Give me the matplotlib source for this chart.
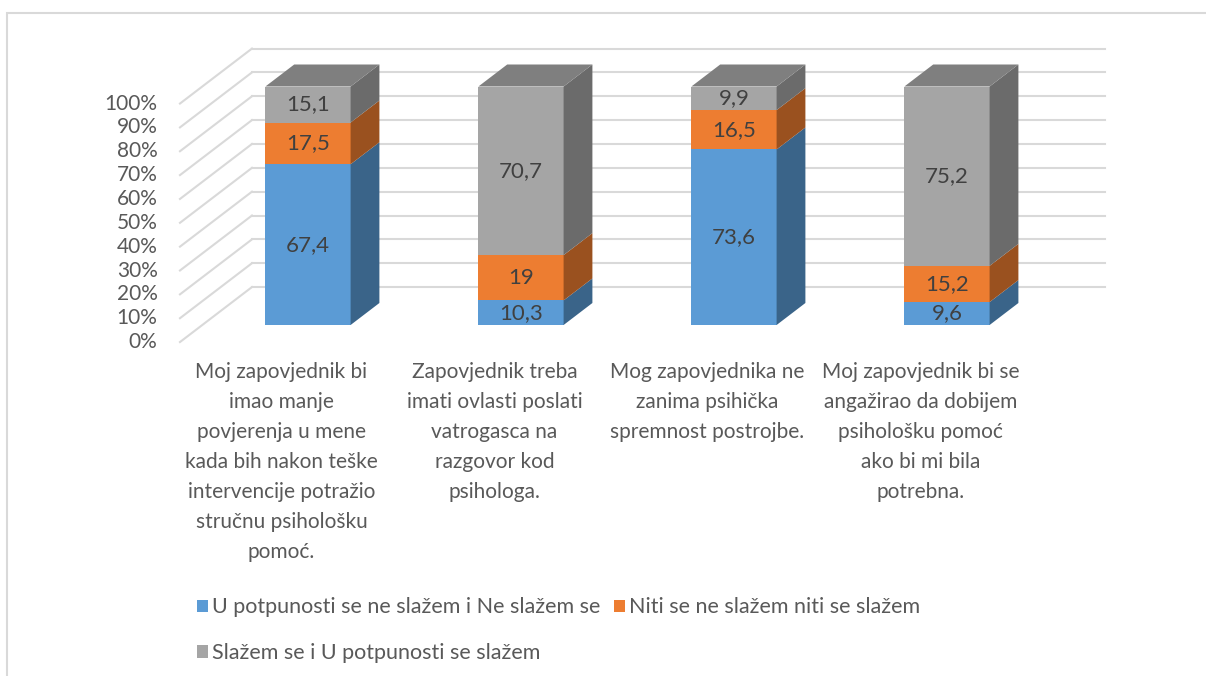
import matplotlib.pyplot as plt
from matplotlib.patches import Polygon, Rectangle
import numpy as np

plt.rcParams['font.family'] = ['Lato', 'DejaVu Sans']

categories = [
    "Moj zapovjednik bi\nimao manje\npovjerenja u mene\nkada bih nakon teške\nintervencije potražio\nstručnu psihološku\npomoć.",
    "Zapovjednik treba\nimati ovlasti poslati\nvatrogasca na\nrazgovor kod\npsihologa.",
    "Mog zapovjednika ne\nzanima psihička\nspremnost postrojbe.",
    "Moj zapovjednik bi se\nangažirao da dobijem\npsihološku pomoć\nako bi mi bila\npotrebna.",
]
series_names = [
    "U potpunosti se ne slažem i Ne slažem se",
    "Niti se ne slažem niti se slažem",
    "Slažem se i U potpunosti se slažem",
]
disagree = [67.4, 10.3, 73.6, 9.6]
neutral = [17.5, 19, 16.5, 15.2]
agree = [15.1, 70.7, 9.9, 75.2]
yticks = [0, 10, 20, 30, 40, 50, 60, 70, 80, 90, 100]

front_colors = ['#5B9BD5', '#ED7D31', '#A5A5A5']
side_colors = ['#3A6489', '#9A511F', '#6B6B6B']
top_color = '#7F7F7F'
grid_color = '#D9D9D9'
text_color = '#595959'
label_color = '#404040'

W, H = 1206, 676
fig = plt.figure(figsize=(W / 100, H / 100), dpi=100)
ax = fig.add_axes([0, 0, 1, 1])

# pixel layout -> data scale (x in category units, y in percent)
px_per_cat = 213.0
px_per_pct = 2.385
x0_px, y0_px = 308.0, 325.0  # first bar centre, 0% on bar front plane
ax.set_xlim(-x0_px / px_per_cat, (W - x0_px) / px_per_cat)
ax.set_ylim(-(H - y0_px) / px_per_pct, y0_px / px_per_pct)
ax.axis('off')

# oblique depth: one depth unit = 72 px right, 55 px up
DX = 72 / px_per_cat
DY = 55 / px_per_pct
d_front, d_back, d_wall, d_floor = 0.0, 0.4, 0.69, -0.31
wall_left = -0.263
wall_right = (1105 - x0_px) / px_per_cat
left_front = wall_left - (d_wall - d_floor) * DX
bar_w = 0.4

# grid lines: back wall + left side wall
for t in yticks:
    ax.plot([wall_left, wall_right], [t + d_wall * DY] * 2, color=grid_color, lw=1.5, zorder=1)
    ax.plot([left_front, wall_left], [t + d_floor * DY, t + d_wall * DY], color=grid_color, lw=1.5, zorder=1)
    ax.text(left_front - 0.105, t + d_floor * DY, f"{t}%", ha='right', va='center',
            fontsize=15, color=text_color)

# bars
stacks = [disagree, neutral, agree]
ddx, ddy = d_back * DX, d_back * DY
for i in range(len(categories)):
    xl, xr = i - bar_w / 2, i + bar_w / 2
    bottom = 0.0
    for s, vals in enumerate(stacks):
        v = vals[i]
        top = bottom + v
        ax.add_patch(Rectangle((xl, bottom), bar_w, v, facecolor=front_colors[s],
                               edgecolor='none', zorder=3))
        ax.add_patch(Polygon([(xr, bottom), (xr + ddx, bottom + ddy), (xr + ddx, top + ddy), (xr, top)],
                             closed=True, facecolor=side_colors[s], edgecolor='none', zorder=3))
        ax.text(i, bottom + v / 2, f"{v:g}".replace('.', ','), ha='center', va='center',
                fontsize=16, color=label_color, zorder=4)
        bottom = top
    ax.add_patch(Polygon([(xl, bottom), (xr, bottom), (xr + ddx, bottom + ddy), (xl + ddx, bottom + ddy)],
                         closed=True, facecolor=top_color, edgecolor='none', zorder=3))
    # category labels sit at the front edge of the floor
    ax.text(i + d_floor * DX - 0.02, d_floor * DY - 8.5, categories[i], ha='center', va='top', fontsize=15,
            color=text_color, linespacing=1.62)

# legend
handles = [Rectangle((0, 0), 1, 1, facecolor=c, edgecolor='none') for c in front_colors]
order = [0, 2, 1]
fig.legend([handles[k] for k in order], [series_names[k] for k in order], ncol=2,
           loc='upper left', bbox_to_anchor=(178 / W, 1 - 578 / H), frameon=False,
           fontsize=15.5, labelcolor=text_color, handlelength=0.5, handleheight=0.5,
           handletextpad=0.2, columnspacing=0.6, labelspacing=1.2)

# outer chart frame
fig.patches.append(Rectangle((7 / W, -0.01), 1.02, 1 - 13 / H + 0.01, transform=fig.transFigure,
                             facecolor='none', edgecolor=grid_color, lw=1.5))

fig.savefig('out.png', dpi=100)
